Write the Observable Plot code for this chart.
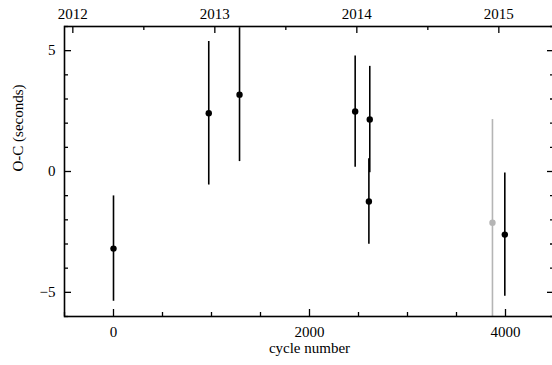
<!DOCTYPE html>
<html>
<head>
<meta charset="utf-8">
<script src="https://cdn.jsdelivr.net/npm/d3@7"></script>
<script src="https://cdn.jsdelivr.net/npm/@observablehq/plot@0.6"></script>
<style>
  html, body { margin: 0; padding: 0; background: #fff; overflow: hidden; }
  #chart { width: 552px; height: 365px; overflow: hidden; }
  #chart svg, #chart svg text { font-family: "Liberation Serif", "DejaVu Serif", serif !important; font-size: 15px !important; }
</style>
</head>
<body>
<div id="chart"></div>
<script>
// ---- data ----
const cycles = [0, 972, 1286, 2466, 2615, 2606, 3867, 3993];
const oc     = [-3.19, 2.41, 3.18, 2.48, 2.15, -1.24, -2.12, -2.61];
const err    = [2.18, 2.97, 2.77, 2.30, 2.20, 1.77, 4.27, 2.55];
const grey   = [false, false, false, false, false, false, true, false];

const xMajorTicks = [0, 2000, 4000];
const xMinorTicks = [-500, 500, 1000, 1500, 2500, 3000, 3500, 4500];
const yMajorTicks = [-5, 0, 5];
const yMinorTicks = [-6, -4, -3, -2, -1, 1, 2, 3, 4, 6];
const years = [2012, 2013, 2014, 2015];
const halfYears = [2012.5, 2013.5, 2014.5];
// cycle number <-> calendar year (top axis)
const cycleAt2012 = -415;
const cyclesPerYear = 1449;
const yearToCycle = y => cycleAt2012 + (y - 2012) * cyclesPerYear;

const points = cycles.map((c, i) => ({cycle: c, oc: oc[i], err: err[i], grey: grey[i]}));

// ---- layout ----
const W = 552, H = 365;
const mL = 64, mR = -2, mT = 26, mB = 49;
const pw = W - mL - mR, ph = H - mT - mB;
const major = 7, minor = 4;
const tickStyle = {stroke: "black", strokeWidth: 1.3};
const FONT = "Liberation Serif";

const chart = Plot.plot({
  width: W,
  height: H,
  marginLeft: mL, marginRight: mR, marginTop: mT, marginBottom: mB,
  style: {fontFamily: FONT, fontSize: "15px", background: "white", color: "black"},
  x: {domain: [-500, 4500], axis: null},
  y: {domain: [-6, 6], axis: null},
  marks: [
    // error bars
    Plot.ruleX(points, {x: "cycle", y1: d => d.oc - d.err, y2: d => d.oc + d.err,
      stroke: d => d.grey ? "#b5b5b5" : "black", strokeWidth: 1.6, clip: true}),
    Plot.dot(points, {x: "cycle", y: "oc", r: 3.2,
      fill: d => d.grey ? "#b5b5b5" : "black", stroke: "none"}),

    // bottom ticks (inward)
    Plot.tickX(xMajorTicks, {x: d => d, insetTop: ph - major, ...tickStyle}),
    Plot.tickX(xMinorTicks, {x: d => d, insetTop: ph - minor, ...tickStyle}),
    // top ticks (years, inward)
    Plot.tickX(years, {x: yearToCycle, insetBottom: ph - major, ...tickStyle}),
    Plot.tickX(halfYears, {x: yearToCycle, insetBottom: ph - minor, ...tickStyle}),
    // left ticks
    Plot.tickY(yMajorTicks, {y: d => d, insetRight: pw - major, ...tickStyle}),
    Plot.tickY(yMinorTicks, {y: d => d, insetRight: pw - minor, ...tickStyle}),
    // right ticks
    Plot.tickY(yMajorTicks, {y: d => d, insetLeft: pw - major, ...tickStyle}),
    Plot.tickY(yMinorTicks, {y: d => d, insetLeft: pw - minor, ...tickStyle}),

    // tick labels
    Plot.text(xMajorTicks, {x: d => d, frameAnchor: "bottom", dy: 15.5, lineAnchor: "middle",
      text: d => String(d), fill: "black", fontFamily: FONT, fontSize: 15}),
    Plot.text(yMajorTicks, {y: d => d, frameAnchor: "left", dx: -9, textAnchor: "end", lineAnchor: "middle",
      text: d => d < 0 ? "\u2212" + Math.abs(d) : String(d), fill: "black", fontFamily: FONT, fontSize: 15}),
    Plot.text(years, {x: yearToCycle, frameAnchor: "top", dy: -12.5, lineAnchor: "middle",
      text: d => String(d), fill: "black", fontFamily: FONT, fontSize: 15}),

    // axis titles
    Plot.text(["cycle number"], {frameAnchor: "bottom", dy: 32, lineAnchor: "middle", fill: "black",
      fontFamily: FONT, fontSize: 15}),
    Plot.text(["O-C (seconds)"], {frameAnchor: "left", dx: -46, rotate: -90, lineAnchor: "middle", fill: "black",
      fontFamily: FONT, fontSize: 15}),

    Plot.frame({stroke: "black", strokeWidth: 1.6})
  ]
});
document.getElementById("chart").appendChild(chart);
</script>
</body>
</html>
